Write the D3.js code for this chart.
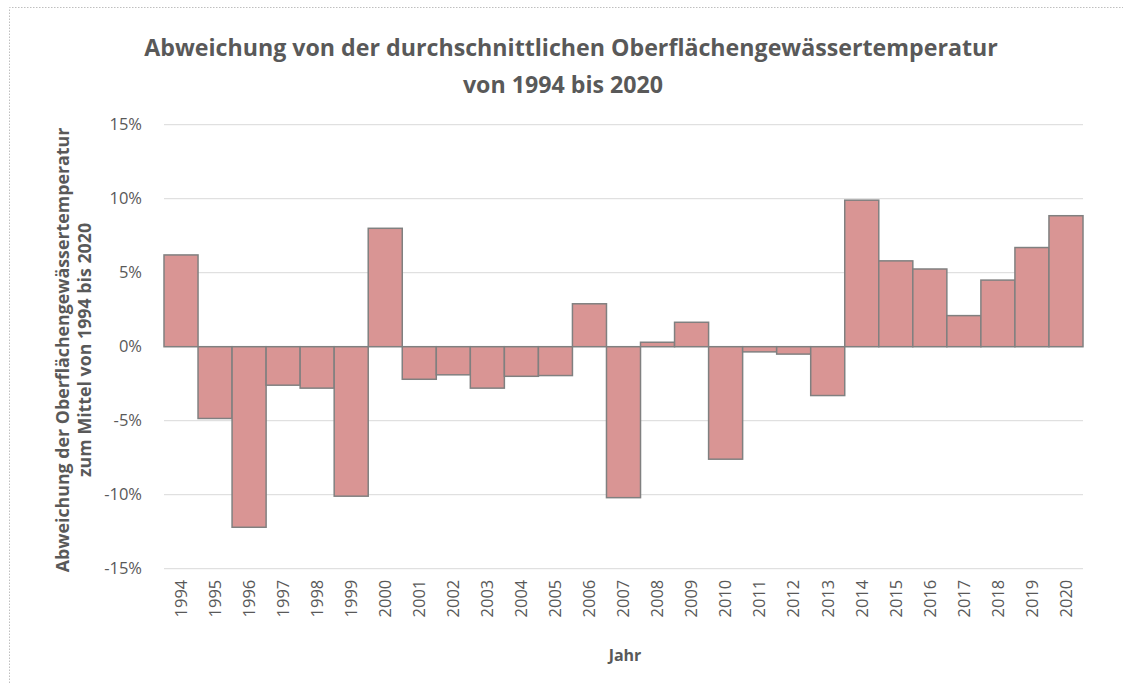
<!DOCTYPE html>
<html lang="de">
<head>
<meta charset="UTF-8">
<title>Abweichung Oberflächengewässertemperatur</title>
<script src="https://d3js.org/d3.v7.min.js"></script>
<style>
  body { margin: 0; background: #fff; }
  text { font-family: "Open Sans", sans-serif; fill: #595959; }
</style>
</head>
<body>
<div id="chart"></div>
<script>
// Daten
const years = ["1994","1995","1996","1997","1998","1999","2000","2001","2002","2003","2004","2005","2006","2007","2008","2009","2010","2011","2012","2013","2014","2015","2016","2017","2018","2019","2020"];
const deviation = [6.2,-4.85,-12.2,-2.6,-2.8,-10.1,8.0,-2.2,-1.9,-2.8,-2.0,-1.95,2.9,-10.2,0.3,1.65,-7.6,-0.35,-0.5,-3.3,9.9,5.8,5.25,2.1,4.5,6.7,8.85];
const yTicks = [-15,-10,-5,0,5,10,15];

const W = 1123, H = 683;
const plot = { left: 164, right: 1083, top: 124.7, bottom: 568.7 };

const svg = d3.select("#chart").append("svg")
  .attr("width", W).attr("height", H);

// gepunkteter Rahmen
svg.append("path")
  .attr("d", `M9.5,${H} V7.5 H${W}`)
  .attr("fill", "none").attr("stroke", "#bfbfbf").attr("stroke-dasharray", "1.5,1.5");

const x = d3.scaleBand().domain(years).range([plot.left, plot.right]).padding(0);
const y = d3.scaleLinear().domain([-15, 15]).range([plot.bottom, plot.top]);

// Gitterlinien
svg.append("g").selectAll("line").data(yTicks).join("line")
  .attr("x1", plot.left).attr("x2", plot.right)
  .attr("y1", d => y(d)).attr("y2", d => y(d))
  .attr("stroke", "#d9d9d9").attr("stroke-width", 1);

// Y-Achse
const yAxis = svg.append("g")
  .attr("transform", `translate(${plot.left - 19},0)`)
  .call(d3.axisLeft(y).tickValues(yTicks).tickSize(0).tickFormat(d => d + "%"));
yAxis.select(".domain").remove();
yAxis.selectAll("text").attr("font-size", 16.5).attr("fill", "#595959")
  .style("font-family", "'Open Sans', sans-serif");

// Balken
svg.append("g").selectAll("rect").data(years).join("rect")
  .attr("x", d => x(d))
  .attr("width", x.bandwidth())
  .attr("y", (d, i) => y(Math.max(0, deviation[i])))
  .attr("height", (d, i) => Math.abs(y(deviation[i]) - y(0)))
  .attr("fill", "#d99594")
  .attr("stroke", "#808080").attr("stroke-width", 1.5);

// X-Achse
const xAxis = svg.append("g")
  .attr("transform", `translate(0,${plot.bottom})`)
  .call(d3.axisBottom(x).tickSize(0));
xAxis.select(".domain").remove();
xAxis.selectAll("text")
  .attr("font-size", 16.5).attr("fill", "#595959")
  .style("font-family", "'Open Sans', sans-serif")
  .attr("transform", "rotate(-90)")
  .attr("text-anchor", "end")
  .attr("dy", "0.35em")
  .attr("x", -11).attr("y", 0);

// Titel
const title = svg.append("text")
  .attr("text-anchor", "middle").attr("font-weight", "bold").attr("font-size", 23.2);
title.append("tspan").attr("x", 571).attr("y", 56)
  .text("Abweichung von der durchschnittlichen Oberflächengewässertemperatur");
title.append("tspan").attr("x", 563).attr("y", 93).text("von 1994 bis 2020");

// Achsentitel
svg.append("text").attr("x", 625).attr("y", 661)
  .attr("text-anchor", "middle").attr("font-weight", "bold").attr("font-size", 16)
  .text("Jahr");

const yt = svg.append("text")
  .attr("transform", "translate(0,350) rotate(-90)")
  .attr("text-anchor", "middle").attr("font-weight", "bold").attr("font-size", 17.8);
yt.append("tspan").attr("x", 0).attr("y", 69).text("Abweichung der Oberflächengewässertemperatur");
yt.append("tspan").attr("x", 0).attr("y", 91).text("zum Mittel von 1994 bis 2020");
</script>
</body>
</html>
